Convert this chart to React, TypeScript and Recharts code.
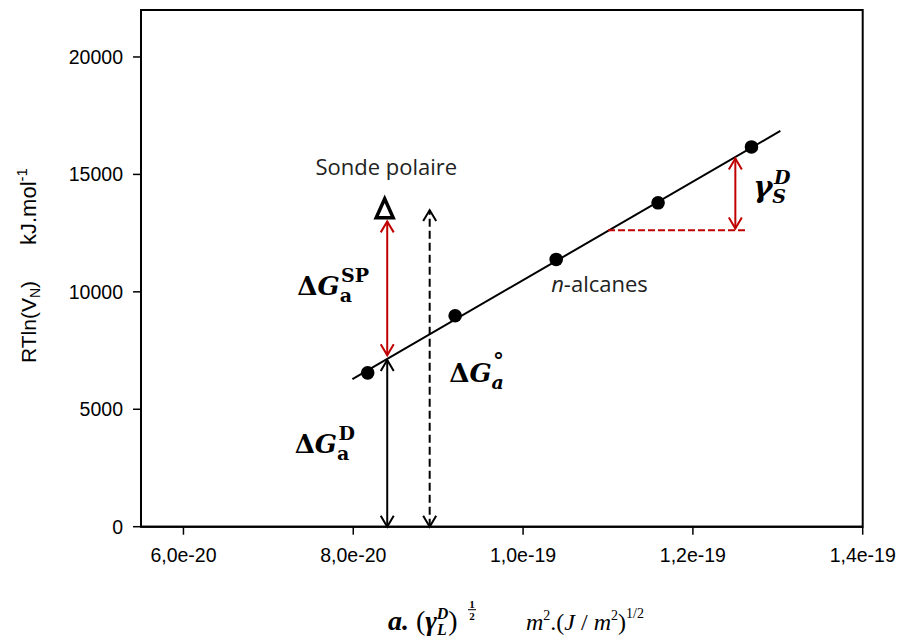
import React from 'react';
import {
  ScatterChart,
  Scatter,
  XAxis,
  YAxis,
  ReferenceLine,
  ReferenceDot,
  ReferenceArea,
} from 'recharts';

// x values are in units of 1e-20 m².(J/m²)^1/2
const xTicks = [6, 8, 10, 12, 14];
const yTicks = [0, 5000, 10000, 15000, 20000];

// n-alkane probes
const alkaneX = [8.17, 9.2, 10.39, 11.59, 12.69];
const alkaneY = [6550, 8980, 11380, 13790, 16170];

// polar probe (open triangle)
const probeX = [8.37];
const probeY = [13540];

// fitted straight line end points
const fitX = [7.99, 13.03];
const fitY = [6285, 16850];

// double headed arrows: x, y from, y to
const arrowSP = [8.4, 7300, 13000];
const arrowD = [8.4, 0, 7100];
const arrowA = [8.9, 0, 13480];
const arrowGamma = [12.5, 12700, 15680];
// red dashed horizontal: y, x from, x to
const stepLine = [12626, 11.0, 12.63];

const alkanes = alkaneX.map((x, i) => ({ x, y: alkaneY[i] }));
const probe = probeX.map((x, i) => ({ x, y: probeY[i] }));

const RED = '#c00000';
const SANS = 'Liberation Sans, Arial, sans-serif';
const SERIF = 'DejaVu Serif, serif';
const TIMES = 'Liberation Serif, serif';
const BODY = 'Open Sans, Noto Sans, sans-serif';

const fmtX = (v: number) =>
  v >= 10 ? `${(v / 10).toFixed(1).replace('.', ',')}e-19` : `${v.toFixed(1).replace('.', ',')}e-20`;

const arrowShape = (color: string, dash?: string) => (p: any) => {
  const { x1, y1, x2, y2 } = p;
  const len = Math.hypot(x2 - x1, y2 - y1) || 1;
  const ux = (x2 - x1) / len;
  const uy = (y2 - y1) / len;
  const L = 11;
  const W = 6.5;
  const head = (tx: number, ty: number, dx: number, dy: number) =>
    `M${tx - dx * L - dy * W},${ty - dy * L + dx * W} L${tx},${ty} L${tx - dx * L + dy * W},${ty - dy * L - dx * W}`;
  return (
    <g>
      <line x1={x1} y1={y1} x2={x2} y2={y2} stroke={color} strokeWidth={2} strokeDasharray={dash} />
      <path d={head(x2, y2, ux, uy) + ' ' + head(x1, y1, -ux, -uy)} fill="none" stroke={color} strokeWidth={2} />
    </g>
  );
};

const deltaG = (sup: string, italicSub: boolean) => (p: any) => (
  <text x={p.cx} y={p.cy} fontFamily={SERIF} fontWeight="bold" fontSize={26} fill="#000">
    Δ<tspan fontStyle="italic">G</tspan>
    <tspan fontSize={19} dy={7} fontStyle={italicSub ? 'italic' : 'normal'}>a</tspan>
    <tspan fontSize={sup === '°' ? 22 : 19} dx={-11} dy={-20}>{sup}</tspan>
  </text>
);

const gammaLabel = (p: any) => (
  <text x={p.cx} y={p.cy} fontFamily={SERIF} fontWeight="bold" fontStyle="italic" fontSize={29} fill="#000">
    γ<tspan fontSize={19} dy={6}>S</tspan>
    <tspan fontSize={19} dx={-12} dy={-19}>D</tspan>
  </text>
);

const plainLabel = (txt: React.ReactNode) => (p: any) => (
  <text x={p.cx} y={p.cy} textAnchor="middle" fontFamily={BODY} fontSize={22} fill="#222">
    {txt}
  </text>
);

const YLabel = (props: any) => {
  const { viewBox } = props;
  return (
    <g transform={`translate(${viewBox.x + 36}, 363) rotate(-90)`}>
      <text x={0} y={0} fontFamily={SANS} fontSize={21} fill="#000">
        RTln(V<tspan fontSize={14} dy={4}>N</tspan>
        <tspan dy={-4}>)</tspan>
      </text>
      <text x={118} y={0} fontFamily={SANS} fontSize={22} fill="#000">
        kJ.mol<tspan fontSize={15} dy={-9}>-1</tspan>
      </text>
    </g>
  );
};

const XLabel = (props: any) => {
  const { viewBox } = props;
  const x0 = viewBox.x + 247;
  const base = viewBox.y + 103;
  return (
    <g fill="#000">
      <text x={x0} y={base} fontFamily={TIMES} fontSize={28} fontWeight="bold" fontStyle="italic">
        a.<tspan fontWeight="normal" fontStyle="normal"> (</tspan>
        <tspan>γ</tspan>
        <tspan fontSize={16} dy={5}>L</tspan>
        <tspan fontSize={16} dx={-10} dy={-16}>D</tspan>
        <tspan fontWeight="normal" fontStyle="normal" dy={11}>)</tspan>
      </text>
      <text x={x0 + 84} y={base - 22} fontFamily={TIMES} fontSize={11} fontWeight="bold" textAnchor="middle">1</text>
      <line x1={x0 + 80} x2={x0 + 88} y1={base - 20} y2={base - 20} stroke="#000" strokeWidth={1} />
      <text x={x0 + 84} y={base - 10} fontFamily={TIMES} fontSize={11} fontWeight="bold" textAnchor="middle">2</text>
      <text x={x0 + 138} y={base} fontFamily={TIMES} fontSize={24} fontStyle="italic">
        m<tspan fontSize={14} fontStyle="normal" dy={-10}>2</tspan>
        <tspan fontStyle="normal" dy={10}>.(</tspan>
        <tspan>J</tspan>
        <tspan fontStyle="normal"> / </tspan>
        <tspan>m</tspan>
        <tspan fontSize={14} fontStyle="normal" dy={-10}>2</tspan>
        <tspan fontStyle="normal" dy={10}>)</tspan>
        <tspan fontSize={14} fontStyle="normal" dy={-12}>1/2</tspan>
      </text>
    </g>
  );
};

const triangle = (p: any) => (
  <path
    d={`M${p.cx},${p.cy - 10} L${p.cx + 8.5},${p.cy + 9} L${p.cx - 8.5},${p.cy + 9} Z`}
    fill="none"
    stroke="#000"
    strokeWidth={3.5}
  />
);

const dot = (p: any) => <circle cx={p.cx} cy={p.cy} r={6.8} fill="#000" />;

export default function App() {
  return (
    <div style={{ position: 'absolute', left: 0, top: 0, background: '#fff' }}>
      <ScatterChart width={898} height={642} margin={{ top: 10, right: 35.3, bottom: 0, left: 0 }}>
        <XAxis
          type="number"
          dataKey="x"
          domain={[5.5, 14]}
          ticks={xTicks}
          tickFormatter={fmtX}
          allowDataOverflow
          height={115.3}
          tickSize={8}
          tickMargin={13}
          axisLine={{ stroke: '#000', strokeWidth: 2 }}
          tickLine={{ stroke: '#000', strokeWidth: 1.5 }}
          tick={{ fontSize: 19.5, fill: '#000', fontFamily: SANS }}
          label={XLabel}
        />
        <YAxis
          type="number"
          dataKey="y"
          domain={[0, 22000]}
          ticks={yTicks}
          allowDataOverflow
          width={141}
          tickSize={8}
          tickMargin={10}
          axisLine={{ stroke: '#000', strokeWidth: 2 }}
          tickLine={{ stroke: '#000', strokeWidth: 1.5 }}
          tick={{ fontSize: 19.5, fill: '#000', fontFamily: SANS }}
          label={YLabel}
        />
        <ReferenceArea x1={5.5} x2={14} y1={0} y2={22000} fill="none" stroke="#000" strokeWidth={2} />
        <ReferenceLine
          segment={[{ x: fitX[0], y: fitY[0] }, { x: fitX[1], y: fitY[1] }]}
          stroke="#000"
          strokeWidth={2}
        />
        <ReferenceLine
          segment={[{ x: stepLine[1], y: stepLine[0] }, { x: stepLine[2], y: stepLine[0] }]}
          stroke={RED}
          strokeWidth={2}
          strokeDasharray="7 3"
        />
        <ReferenceLine
          segment={[{ x: arrowSP[0], y: arrowSP[1] }, { x: arrowSP[0], y: arrowSP[2] }]}
          shape={arrowShape(RED)}
        />
        <ReferenceLine
          segment={[{ x: arrowD[0], y: arrowD[1] }, { x: arrowD[0], y: arrowD[2] }]}
          shape={arrowShape('#000')}
        />
        <ReferenceLine
          segment={[{ x: arrowA[0], y: arrowA[1] }, { x: arrowA[0], y: arrowA[2] }]}
          shape={arrowShape('#000', '8 4')}
        />
        <ReferenceLine
          segment={[{ x: arrowGamma[0], y: arrowGamma[1] }, { x: arrowGamma[0], y: arrowGamma[2] }]}
          shape={arrowShape(RED)}
        />
        <Scatter data={alkanes} shape={dot} isAnimationActive={false} />
        <Scatter data={probe} shape={triangle} isAnimationActive={false} />
        <ReferenceDot x={8.39} y={14970} r={1} shape={plainLabel('Sonde polaire')} />
        <ReferenceDot
          x={10.9}
          y={10000}
          r={1}
          shape={plainLabel(
            <>
              <tspan fontStyle="italic">n</tspan>-alcanes
            </>
          )}
        />
        <ReferenceDot x={7.34} y={9880} r={1} shape={deltaG('SP', false)} />
        <ReferenceDot x={7.31} y={3120} r={1} shape={deltaG('D', false)} />
        <ReferenceDot x={9.13} y={6170} r={1} shape={deltaG('°', true)} />
        <ReferenceDot x={12.71} y={14030} r={1} shape={gammaLabel} />
      </ScatterChart>
    </div>
  );
}
